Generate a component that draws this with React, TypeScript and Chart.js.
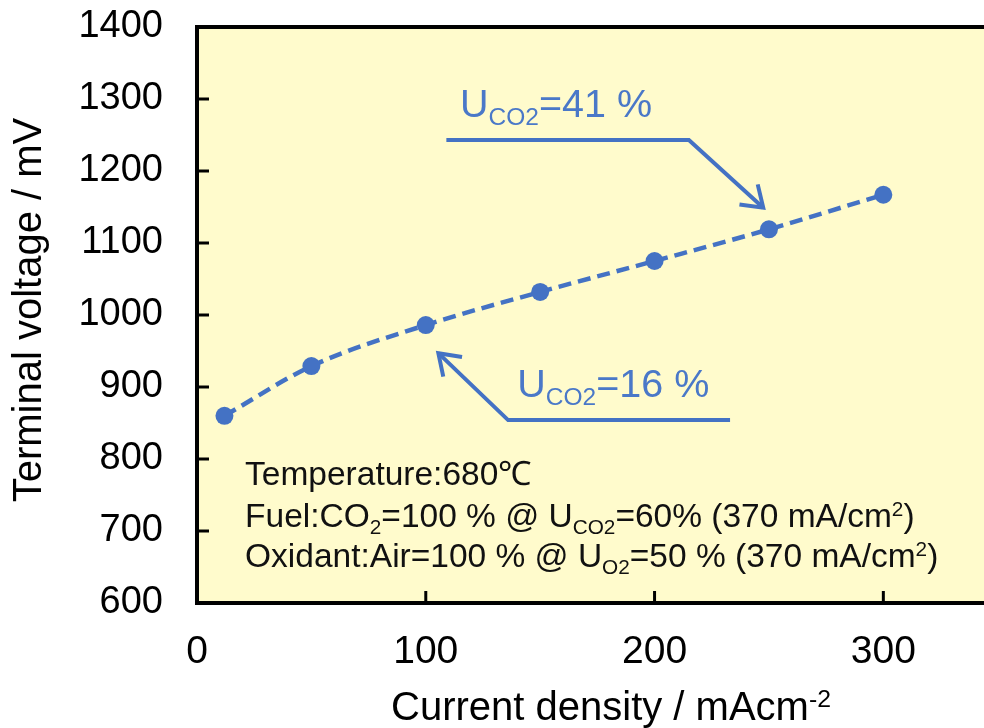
import React, { useEffect, useRef } from "react";
import { Chart, registerables } from "chart.js";

Chart.register(...registerables);

// ---- data ----
const currentDensity = [12, 50, 100, 150, 200, 250, 300];
const terminalVoltage = [860, 929, 986, 1032, 1075, 1119, 1167];
const xTickValues = [0, 100, 200, 300];
const yTickValues = [600, 700, 800, 900, 1000, 1100, 1200, 1300, 1400];

// annotation arrows (data coordinates)
const arrow41X = [109, 215, 247.5];
const arrow41Y = [1243, 1243, 1149];
const arrow16X = [233, 136, 105.5];
const arrow16Y = [854, 854, 947];

type Seg = { t: string; s?: "sub" | "sup" };
const label41: Seg[] = [{ t: "U" }, { t: "CO2", s: "sub" }, { t: "=41 %" }];
const label16: Seg[] = [{ t: "U" }, { t: "CO2", s: "sub" }, { t: "=16 %" }];
const noteLines: Seg[][] = [
  [{ t: "Temperature:680\u2103" }],
  [
    { t: "Fuel:CO" },
    { t: "2", s: "sub" },
    { t: "=100 % @ U" },
    { t: "CO2", s: "sub" },
    { t: "=60% (370 mA/cm" },
    { t: "2", s: "sup" },
    { t: ")" },
  ],
  [
    { t: "Oxidant:Air=100 % @ U" },
    { t: "O2", s: "sub" },
    { t: "=50 % (370 mA/cm" },
    { t: "2", s: "sup" },
    { t: ")" },
  ],
];
const xTitle: Seg[] = [{ t: "Current density / mAcm" }, { t: "-2", s: "sup" }];
const yTitle = "Terminal voltage / mV";

const FONT = "'Liberation Sans', Arial, Helvetica, sans-serif";
const BLUE = "#4472C4";
const LABEL_BLUE = "#4A78C8";
const BG = "#FFFBCC";

function richWidth(ctx: CanvasRenderingContext2D, segs: Seg[], size: number) {
  let w = 0;
  for (const sg of segs) {
    const fs = sg.s ? size * 0.62 : size;
    ctx.font = `${fs}px ${FONT}`;
    w += ctx.measureText(sg.t).width;
  }
  return w;
}

function drawRich(
  ctx: CanvasRenderingContext2D,
  x: number,
  y: number,
  segs: Seg[],
  size: number,
  color: string
) {
  ctx.fillStyle = color;
  ctx.textAlign = "left";
  ctx.textBaseline = "alphabetic";
  let cx = x;
  for (const sg of segs) {
    const fs = sg.s ? size * 0.62 : size;
    ctx.font = `${fs}px ${FONT}`;
    const dy = sg.s === "sub" ? size * 0.21 : sg.s === "sup" ? -size * 0.33 : 0;
    ctx.fillText(sg.t, cx, y + dy);
    cx += ctx.measureText(sg.t).width;
  }
}

function drawArrow(
  ctx: CanvasRenderingContext2D,
  pts: { x: number; y: number }[]
) {
  ctx.save();
  ctx.strokeStyle = BLUE;
  ctx.lineWidth = 4;
  ctx.lineCap = "butt";
  ctx.lineJoin = "miter";
  ctx.beginPath();
  pts.forEach((p, i) => (i === 0 ? ctx.moveTo(p.x, p.y) : ctx.lineTo(p.x, p.y)));
  ctx.stroke();
  const a = pts[pts.length - 2];
  const b = pts[pts.length - 1];
  const ang = Math.atan2(b.y - a.y, b.x - a.x);
  const len = 24;
  const spread = 0.6;
  ctx.beginPath();
  ctx.moveTo(b.x - len * Math.cos(ang - spread), b.y - len * Math.sin(ang - spread));
  ctx.lineTo(b.x, b.y);
  ctx.lineTo(b.x - len * Math.cos(ang + spread), b.y - len * Math.sin(ang + spread));
  ctx.stroke();
  ctx.restore();
}

const decorPlugin = {
  id: "decor",
  beforeDraw(chart: any) {
    const { ctx, chartArea } = chart;
    ctx.save();
    ctx.fillStyle = BG;
    ctx.fillRect(chartArea.left, chartArea.top, chartArea.right - chartArea.left, chartArea.bottom - chartArea.top);
    ctx.restore();
  },
  afterDraw(chart: any) {
    const { ctx, chartArea } = chart;
    const xs = chart.scales.x;
    const ys = chart.scales.y;
    ctx.save();
    // top border
    ctx.strokeStyle = "#000";
    ctx.lineWidth = 4;
    ctx.beginPath();
    ctx.moveTo(chartArea.left - 2, chartArea.top);
    ctx.lineTo(chartArea.right, chartArea.top);
    ctx.stroke();
    // inward tick marks
    ctx.lineWidth = 3;
    for (const v of yTickValues) {
      const py = ys.getPixelForValue(v);
      ctx.beginPath();
      ctx.moveTo(chartArea.left, py);
      ctx.lineTo(chartArea.left + 12, py);
      ctx.stroke();
    }
    for (const v of xTickValues) {
      const px = xs.getPixelForValue(v);
      ctx.beginPath();
      ctx.moveTo(px, chartArea.bottom);
      ctx.lineTo(px, chartArea.bottom - 12);
      ctx.stroke();
    }
    // arrows
    drawArrow(ctx, arrow41X.map((x, i) => ({ x: xs.getPixelForValue(x), y: ys.getPixelForValue(arrow41Y[i]) })));
    drawArrow(ctx, arrow16X.map((x, i) => ({ x: xs.getPixelForValue(x), y: ys.getPixelForValue(arrow16Y[i]) })));
    // annotation labels
    drawRich(ctx, xs.getPixelForValue(115), ys.getPixelForValue(1275), label41, 39.5, LABEL_BLUE);
    drawRich(ctx, xs.getPixelForValue(140), ys.getPixelForValue(886), label16, 39.5, LABEL_BLUE);
    // condition notes
    const noteBase = [764, 706, 650];
    noteLines.forEach((line, i) => {
      drawRich(ctx, xs.getPixelForValue(21), ys.getPixelForValue(noteBase[i]), line, 33.5, "#111");
    });
    // axis titles
    const w = richWidth(ctx, xTitle, 40);
    drawRich(ctx, 611 - w / 2, 720, xTitle, 40, "#000");
    ctx.translate(30, (chartArea.top + chartArea.bottom) / 2 - 5);
    ctx.rotate(-Math.PI / 2);
    ctx.font = `40px ${FONT}`;
    ctx.fillStyle = "#000";
    ctx.textAlign = "center";
    ctx.textBaseline = "middle";
    ctx.fillText(yTitle, 0, 0);
    ctx.restore();
  },
};

export default function App() {
  const ref = useRef<HTMLCanvasElement | null>(null);
  useEffect(() => {
    if (!ref.current) return;
    const chart = new Chart(ref.current, {
      type: "line",
      data: {
        datasets: [
          {
            data: currentDensity.map((x, i) => ({ x, y: terminalVoltage[i] })),
            borderColor: BLUE,
            backgroundColor: BLUE,
            borderWidth: 4.5,
            borderDash: [13, 7],
            pointRadius: 9,
            pointBorderWidth: 0,
            pointBackgroundColor: BLUE,
            cubicInterpolationMode: "monotone",
            fill: false,
          },
        ],
      },
      options: {
        animation: false,
        responsive: false,
        layout: { autoPadding: false, padding: { top: 27, right: 0, left: 0, bottom: 0 } },
        plugins: { legend: { display: false }, tooltip: { enabled: false }, title: { display: false } },
        scales: {
          x: {
            type: "linear",
            min: 0,
            max: 344,
            afterBuildTicks: (s: any) => {
              s.ticks = xTickValues.map((v) => ({ value: v }));
            },
            afterFit: (s: any) => {
              s.height = 125;
              s.paddingLeft = 0;
              s.paddingRight = 0;
              s.paddingTop = 0;
              s.paddingBottom = 0;
            },
            grid: { display: false, drawTicks: false },
            border: { display: true, color: "#000", width: 4 },
            ticks: {
              padding: 26,
              color: "#000",
              font: { family: FONT, size: 39 },
              maxRotation: 0,
              autoSkip: false,
              callback: (v: any) => String(v),
            },
          },
          y: {
            type: "linear",
            min: 600,
            max: 1400,
            afterBuildTicks: (s: any) => {
              s.ticks = yTickValues.map((v) => ({ value: v }));
            },
            afterFit: (s: any) => {
              s.width = 197;
              s.paddingLeft = 0;
              s.paddingRight = 0;
              s.paddingTop = 0;
              s.paddingBottom = 0;
            },
            grid: { display: false, drawTicks: false },
            border: { display: true, color: "#000", width: 4 },
            ticks: {
              padding: 34,
              color: "#000",
              font: { family: FONT, size: 38 },
              autoSkip: false,
              callback: (v: any) => String(v),
            },
          },
        },
      },
      plugins: [decorPlugin],
    } as any);
    return () => chart.destroy();
  }, []);
  return (
    <div style={{ position: "absolute", left: 0, top: 0, width: 984, height: 728, background: "#fff" }}>
      <canvas ref={ref} width={984} height={728} style={{ display: "block" }} />
    </div>
  );
}
